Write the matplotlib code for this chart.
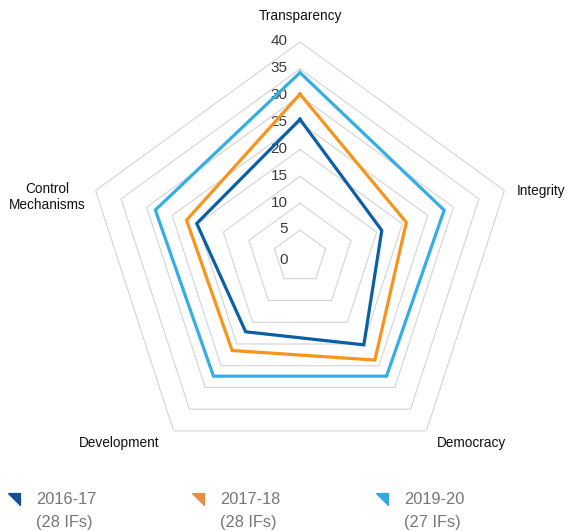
import numpy as np
import matplotlib.pyplot as plt
from matplotlib.lines import Line2D

# Categories, clockwise from the top
categories = ['Transparency', 'Integrity', 'Democracy', 'Development', 'Control\nMechanisms']
ticks = [0, 5, 10, 15, 20, 25, 30, 35, 40]

s2016 = [25.6, 16.0, 20.2, 17.2, 20.2]
s2017 = [30.3, 20.8, 23.7, 21.5, 22.2]
s2019 = [34.3, 28.2, 27.4, 27.4, 28.3]

series_names = ['2016-17', '2017-18', '2019-20']
series_counts = ['(28 IFs)', '(28 IFs)', '(27 IFs)']
line_colors = ['#0b5fa5', '#f7941d', '#35aee4']
legend_colors = ['#14509a', '#e88a48', '#34a7e0']

plt.rcParams['font.family'] = ['Liberation Sans', 'DejaVu Sans']

W, H = 567, 531
fig = plt.figure(figsize=(W / 100, H / 100), dpi=100)

# polar axes: centre at (300, 257) px, radius 215 px for value 40
cx, cy, R = 300, 257, 215
ax = fig.add_axes([(cx - R) / W, (H - cy - R) / H, 2 * R / W, 2 * R / H], projection='polar')
ax.set_theta_offset(np.pi / 2)
ax.set_theta_direction(-1)
ax.set_ylim(0, 40)
ax.axis('off')

angles = np.linspace(0, 2 * np.pi, len(categories), endpoint=False)
closed = np.append(angles, angles[0])

# pentagon grid
for v in ticks[1:]:
    ax.plot(closed, [v] * len(closed), color='#d3d3d3', lw=0.8, zorder=1)

for t in ticks:
    dy = -2.5 if t == 0 else 0.5
    ax.annotate(str(t), xy=(0, t), xytext=(-9, dy), textcoords='offset points',
                ha='right', va='center', fontsize=11, color='#3a3a3a')

for data, col in zip([s2016, s2017, s2019], line_colors):
    ax.plot(closed, data + data[:1], color=col, lw=2.3, zorder=3,
            solid_joinstyle='miter')

# category labels (pixel positions)
def px(x, y):
    return x / W, 1 - y / H

lab_kw = dict(fontsize=9.8, color='#111111', va='center')
fig.text(*px(300, 16), categories[0], ha='center', **lab_kw)
fig.text(*px(517, 191), categories[1], ha='left', **lab_kw)
fig.text(*px(472, 443), categories[2], ha='center', **lab_kw)
fig.text(*px(119, 443), categories[3], ha='center', **lab_kw)
fig.text(*px(47, 197), categories[4], ha='center', linespacing=1.25, **lab_kw)

# legend
tri = [(-1, 1), (1, 1), (1, -1), (-1, 1)]
mx = [14, 198, 382]
tx = [36, 220, 404]
for i in range(3):
    fig.add_artist(Line2D([mx[i] / W], [1 - 499 / H], marker=tri, markersize=8.5,
                          color=legend_colors[i], linestyle='none',
                          transform=fig.transFigure))
    fig.text(*px(tx[i], 500), series_names[i], ha='left', va='center',
             fontsize=11.8, color='#777777')
    fig.text(*px(tx[i], 522), series_counts[i], ha='left', va='center',
             fontsize=11.8, color='#777777')

fig.savefig('out.png', dpi=100)
